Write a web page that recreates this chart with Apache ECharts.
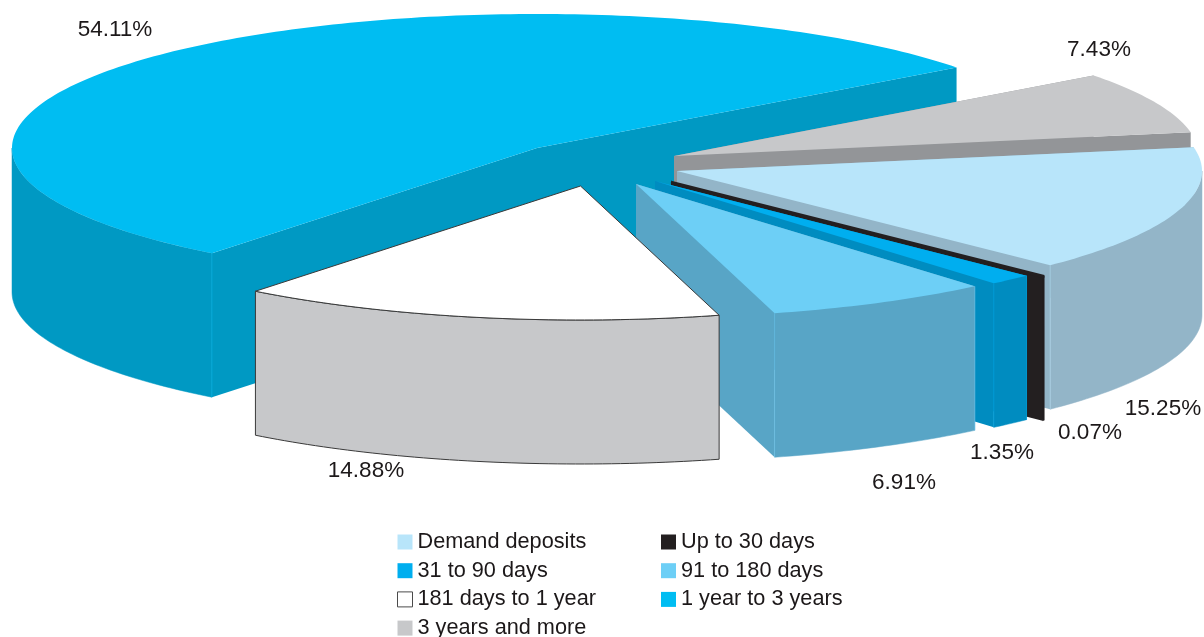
<!DOCTYPE html>
<html><head><meta charset="utf-8">
<style>html,body{margin:0;padding:0;background:#fff}#c{width:1204px;height:637px}</style>
<script src="https://cdn.jsdelivr.net/npm/echarts@6/dist/echarts.min.js"></script>
</head><body><div id="c"></div>
<script>
const categories = ['Demand deposits','Up to 30 days','31 to 90 days','91 to 180 days','181 days to 1 year','1 year to 3 years','3 years and more'];
const shares = [15.25,0.07,1.35,6.91,14.88,54.11,7.43];

const topColors  = ['#b8e5fa','#231f20','#00aeef','#6dcff6','#ffffff','#00bdf2','#c7c8ca'];
const wallColors = ['#93b5c8','#231f20','#008cc0','#58a5c6','#c7c8ca','#0099c3','#939598'];
const apexX = [677,671,655,636,580.5,537,674];
const apexY = [171,182,181,184,186,148,156];
const labelX = [1163,1090,1002,904,366,115,1099];
const labelY = [409,433,453,483,471,30,50];
const paintOrder = [3,4,5,6,7,1,2];
const legendLeft = [0,2,4,6];
const legendRight = [1,3,5];

const RX = 525, RY = 134, DEPTH = 144, START = -10.2;
const rad = d => d * Math.PI / 180;

function sliceRange(i){
  let a = START;
  for (let k = 0; k < i; k++) a += shares[k] * 3.6;
  return [a, a + shares[i] * 3.6];
}
function renderSlice(i){
  return function(params, api){
    const share = api.value(0);
    const [a0, a1] = sliceRange(i);
    const cx = apexX[i], cy = apexY[i];
    const pt = (d, drop) => [cx + RX * Math.cos(rad(d)), cy + RY * Math.sin(rad(d)) + (drop || 0)];
    const arc = (s, e, drop) => {
      const out = [], n = Math.max(2, Math.ceil(Math.abs(e - s)));
      for (let k = 0; k <= n; k++) out.push(pt(s + (e - s) * k / n, drop));
      return out;
    };
    const outlined = i === 4, thin = i === 1;
    const children = [];
    if (!outlined) {
      [a0, a1].forEach(a => {
        children.push({type:'polygon', shape:{points:[[cx,cy],pt(a),pt(a,DEPTH),[cx,cy+DEPTH]]},
          style:{fill:wallColors[i]}});
      });
    }
    // Front wall: the part of the rim whose parametric angle lies in the front half.
    const ranges = [];
    [[0,180],[360,540]].forEach(r => {
      const s = Math.max(a0, r[0]), e = Math.min(a1, r[1]);
      if (e > s) ranges.push([s, e]);
    });
    ranges.forEach(r => {
      children.push({type:'polygon',
        shape:{points: arc(r[0], r[1], 0).concat(arc(r[1], r[0], DEPTH))},
        style:{fill:wallColors[i], stroke: outlined ? '#3a3a3a' : wallColors[i], lineWidth: outlined ? 1 : 0.5}});
    });
    children.push({type:'polygon',
      shape:{points:[[cx,cy]].concat(arc(a0, a1, 0))},
      style:{fill:topColors[i], stroke: outlined ? '#3a3a3a' : (thin ? topColors[i] : null),
        lineWidth: outlined ? 1 : (thin ? 2.5 : 0), lineJoin:'bevel'}});
    if (!outlined && !thin) {
      [a0, a1].forEach(a => {
        const p = pt(a);
        if (Math.sin(rad(a)) > 0) {
          children.push({type:'line', shape:{x1:p[0],y1:p[1],x2:p[0],y2:p[1]+DEPTH},
            style:{stroke:topColors[i], lineWidth:0.8, opacity:0.6}});
        }
      });
    }
    children.push({type:'text', z2:50, style:{
      text: share.toFixed(2) + '%', x: labelX[i], y: labelY[i],
      fill:'#1c1819', font:'22.5px "Liberation Sans", Arial, sans-serif',
      align:'center', verticalAlign:'middle'}});
    return {type:'group', children};
  };
}
const series = categories.map((name, i) => ({
  type:'custom', name, coordinateSystem:'none', z: paintOrder[i], silent:true,
  animation:false, clip:false,
  itemStyle:{color: topColors[i]},
  data:[[shares[i]]],
  renderItem: renderSlice(i)
}));
const legendItem = i => ({
  name: categories[i], icon:'rect',
  itemStyle: i === 4
    ? {color:'#ffffff', borderColor:'#4a4a4a', borderWidth:1}
    : {color: topColors[i], borderWidth:0}
});
const legendBase = {
  orient:'vertical', top:531, height:125, itemWidth:15, itemHeight:15, itemGap:6.7, padding:0,
  selectedMode:false,
  textStyle:{color:'#1c1819', fontFamily:'"Liberation Sans", Arial, sans-serif', fontSize:21.7, lineHeight:21, padding:[0,0,0,0]}
};
const chart = echarts.init(document.getElementById('c'), null, {renderer:'canvas'});
chart.setOption({
  animation:false,
  backgroundColor:'#ffffff',
  legend:[
    Object.assign({}, legendBase, {left:397, data: legendLeft.map(legendItem)}),
    Object.assign({}, legendBase, {left:661, data: legendRight.map(legendItem)})
  ],
  series
});
</script></body></html>
